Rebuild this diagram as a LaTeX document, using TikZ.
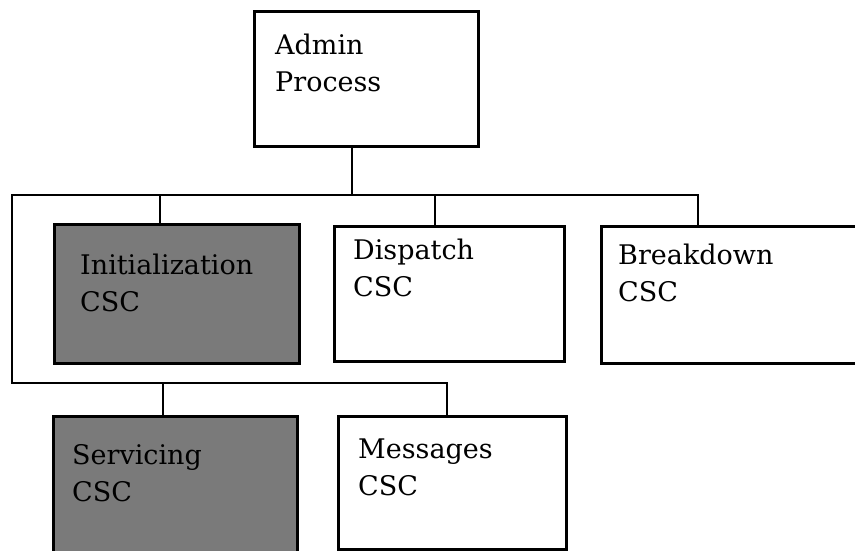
\documentclass[tikz,border=0pt]{standalone}
\usepackage{fontspec}
\setmainfont{DejaVu Serif}
\usetikzlibrary{calc}
\begin{document}
\begin{tikzpicture}[x=1pt,y=-1pt,
  box/.style={draw=black, line width=2.8pt, rectangle, inner sep=0pt, anchor=north west, fill=white},
  shaded/.style={box, fill=black!52},
  txt/.style={anchor=north west, inner sep=0pt, align=left, font=\fontsize{27}{37}\selectfont},
  wire/.style={draw=black, line width=2.8pt}]
\useasboundingbox (0,0) rectangle (855,550);
% boxes
\node[box, minimum width=224pt, minimum height=135pt] (admin) at (253,10) {};
\node[shaded, minimum width=245pt, minimum height=139pt] (init) at (53,223) {};
\node[box, minimum width=230pt, minimum height=135pt] (disp) at (333,225) {};
\node[box, minimum width=270pt, minimum height=137pt] (bd) at (600,225) {};
\node[shaded, minimum width=244pt, minimum height=145pt] (serv) at (52,415) {};
\node[box, minimum width=228pt, minimum height=133pt] (msg) at (337,415) {};
% texts
\node[txt] (adminT) at (275,34) {Admin\\Process};
\node[txt] (initT) at (80,254) {Initialization\\CSC};
\node[txt] (dispT) at (353,239) {Dispatch\\CSC};
\node[txt] (bdT) at (618,244) {Breakdown\\CSC};
\node[txt] (servT) at (72,444) {Servicing\\CSC};
\node[txt] (msgT) at (358,439) {Messages\\CSC};
% attachment points
\coordinate (aS) at ($(admin.south west)+(99,0)$);
\coordinate (iN) at ($(init.north west)+(107,0)$);
\coordinate (dN) at ($(disp.north west)+(102,0)$);
\coordinate (bN) at ($(bd.north west)+(98,0)$);
\coordinate (sN) at ($(serv.north west)+(111,0)$);
\coordinate (mN) at ($(msg.north west)+(110,0)$);
\coordinate (busL) at (12,195);
\coordinate (lowL) at (12,383);
% connectors
\draw[wire] (aS) -- (aS |- busL);
\draw[wire] (bN) |- (busL) -- (lowL) -| (mN);
\draw[wire] (iN) -- (iN |- busL);
\draw[wire] (dN) -- (dN |- busL);
\draw[wire] (sN) -- (sN |- lowL);
\end{tikzpicture}
\end{document}
